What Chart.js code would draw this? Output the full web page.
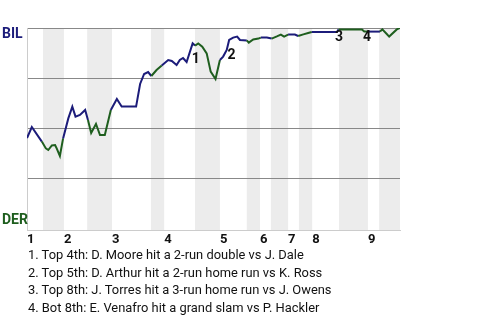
<!DOCTYPE html>
<html>
<head>
<meta charset="utf-8">
<script src="https://cdn.jsdelivr.net/npm/chart.js@4/dist/chart.umd.min.js"></script>
<style>
  body { margin: 0; background: #fff; }
  #wrap { position: relative; width: 480px; height: 320px; }
  #wp { position: absolute; left: 0; top: 0; }
  #notes { position: absolute; left: 28px; top: 246px; font: 12.9px Roboto, sans-serif; line-height: 17.7px; color: #111; }
</style>
</head>
<body>
<div id="wrap">
  <canvas id="wp" width="480" height="320"></canvas>
  <div id="notes"></div>
</div>
<script>
// game progress (plate appearances) and BIL win probability
const progress = [0, 1.2, 3.7, 4.7, 5.3, 6.2, 7.0, 7.4, 8.2, 9.0, 10.3, 11.3, 12.1, 13.2, 14.5, 15.2, 16.0, 17.2, 18.2, 19.4,
    20.9, 22.4, 23.6, 27.2, 28.2, 29.2, 30.2, 31.0, 32.3, 33.6, 35.2, 36.1, 37.3, 38.1, 38.9, 39.8, 41.3, 41.9, 42.7, 43.7,
    44.8, 45.8, 47.0, 48.1, 48.9, 49.8, 50.4, 51.4, 52.4, 53.1, 54.8, 55.3, 56.4, 57.7, 58.3, 59.8, 61.0, 62.3, 63.3, 64.1,
    65.1, 66.8, 67.6, 68.9, 70.1, 71.0, 77.3, 77.7, 83.5, 84.1, 85.0, 88.0, 88.6, 89.7, 90.3, 92.2, 93];
const bilWinPct = [45, 50.5, 43.2, 39.8, 39, 41.3, 41.5, 39.8, 36, 44.8, 54.8, 60.7, 55.7, 56.5, 59, 54, 47.5, 52, 46.5, 46.5,
    59, 64.5, 60.7, 60.7, 72, 77, 78, 76, 79, 81.2, 84, 83.5, 81.5, 84, 85, 83, 92.3, 91.2, 92.3, 90.7,
    87.3, 78.2, 74.5, 84, 85.7, 89, 94, 95.2, 95.7, 94, 93.8, 92.7, 94.3, 94.7, 95.2, 95.2, 94.7, 95.8, 96.7, 95.7,
    96.7, 96.7, 96, 96.8, 97.5, 98, 98, 99.3, 99.3, 98.2, 98.2, 98.2, 99.3, 97, 95.7, 99.3, 100];

// start of each half inning (top, bot, top, bot ...) and the end of the game
const halfInnings = [0, 4.0, 9.2, 15.0, 21.2, 30.9, 34.2, 41.9, 48.1, 54.8, 58.1, 60.8, 65.1, 67.8, 71.1, 77.8, 85.0, 87.8, 93];
const innings = ['1', '2', '3', '4', '5', '6', '7', '8', '9'];
const teams = ['BIL', 'DER'];

// big plays
const eventIds = ['1', '2', '3', '4'];
const eventAt = [42.1, 51.0, 77.8, 84.8];
const eventLabelPct = [84.5, 86.5, 95.5, 95.5];
const eventNotes = [
    '1. Top 4th: D. Moore hit a 2-run double vs J. Dale',
    '2. Top 5th: D. Arthur hit a 2-run home run vs K. Ross',
    '3. Top 8th: J. Torres hit a 3-run home run vs J. Owens',
    '4. Bot 8th: E. Venafro hit a grand slam vs P. Hackler'
];

const BIL_COLOR = '#1c1c7a';
const DER_COLOR = '#1e5e1e';

function halfIndex(x) {
    for (let i = 0; i < halfInnings.length - 1; i++) {
        if (x >= halfInnings[i] && x < halfInnings[i + 1]) return i;
    }
    return halfInnings.length - 2;
}

const bandsPlugin = {
    id: 'bands',
    beforeDraw(chart) {
        const { ctx, chartArea, scales } = chart;
        ctx.save();
        ctx.fillStyle = '#ececec';
        for (let i = 1; i < halfInnings.length - 1; i += 2) {
            const x0 = scales.x.getPixelForValue(halfInnings[i]);
            const x1 = scales.x.getPixelForValue(halfInnings[i + 1]);
            ctx.fillRect(x0, chartArea.top, x1 - x0, chartArea.bottom - chartArea.top);
        }
        ctx.restore();
    }
};

const labelsPlugin = {
    id: 'labels',
    afterDatasetsDraw(chart) {
        const { ctx, chartArea, scales } = chart;
        ctx.save();
        ctx.font = 'bold 14px Roboto';
        ctx.textBaseline = 'middle';
        ctx.textAlign = 'left';
        ctx.fillStyle = BIL_COLOR;
        ctx.fillText(teams[0], 2, chartArea.top + 6.5);
        ctx.fillStyle = DER_COLOR;
        ctx.fillText(teams[1], 2, chartArea.bottom - 9.5);

        ctx.textAlign = 'center';
        ctx.fillStyle = '#111';
        eventIds.forEach((id, i) => {
            ctx.fillText(id, scales.x.getPixelForValue(eventAt[i]), scales.y.getPixelForValue(eventLabelPct[i]));
        });
        ctx.restore();
    }
};

document.getElementById('notes').innerHTML = eventNotes.map(t => `<div>${t}</div>`).join('');

new Chart(document.getElementById('wp'), {
    type: 'line',
    data: {
        datasets: [{
            data: progress.map((x, i) => ({ x: x, y: bilWinPct[i] })),
            borderWidth: 2,
            pointRadius: 0,
            tension: 0,
            borderColor: BIL_COLOR,
            segment: {
                borderColor: c => halfIndex((c.p0.parsed.x + c.p1.parsed.x) / 2) % 2 === 0 ? BIL_COLOR : DER_COLOR
            }
        }]
    },
    options: {
        responsive: false,
        animation: false,
        layout: { padding: { left: 27, right: 80, top: 28, bottom: 0 } },
        plugins: { legend: { display: false }, tooltip: { enabled: false } },
        scales: {
            x: {
                type: 'linear',
                min: 0,
                max: 93,
                grid: { display: false, drawTicks: false },
                border: { color: '#cccccc' },
                afterBuildTicks: axis => { axis.ticks = innings.map((_, i) => ({ value: halfInnings[i * 2] })); },
                afterFit: axis => { axis.height = 90; },
                ticks: {
                    autoSkip: false,
                    maxRotation: 0,
                    align: 'start',
                    padding: 2,
                    color: '#111',
                    font: { family: 'Roboto', weight: 'bold', size: 13 },
                    callback: (v, i) => innings[i]
                }
            },
            y: {
                min: -1,
                max: 100,
                afterBuildTicks: axis => { axis.ticks = [0, 25, 50, 75, 100].map(v => ({ value: v })); },
                afterFit: axis => { axis.width = 0; },
                grid: {
                    drawTicks: false,
                    color: c => c.tick.value === 0 ? 'rgba(0,0,0,0)' : '#888888'
                },
                border: { color: '#cccccc' },
                ticks: { display: false }
            }
        }
    },
    plugins: [bandsPlugin, labelsPlugin]
});
</script>
</body>
</html>
